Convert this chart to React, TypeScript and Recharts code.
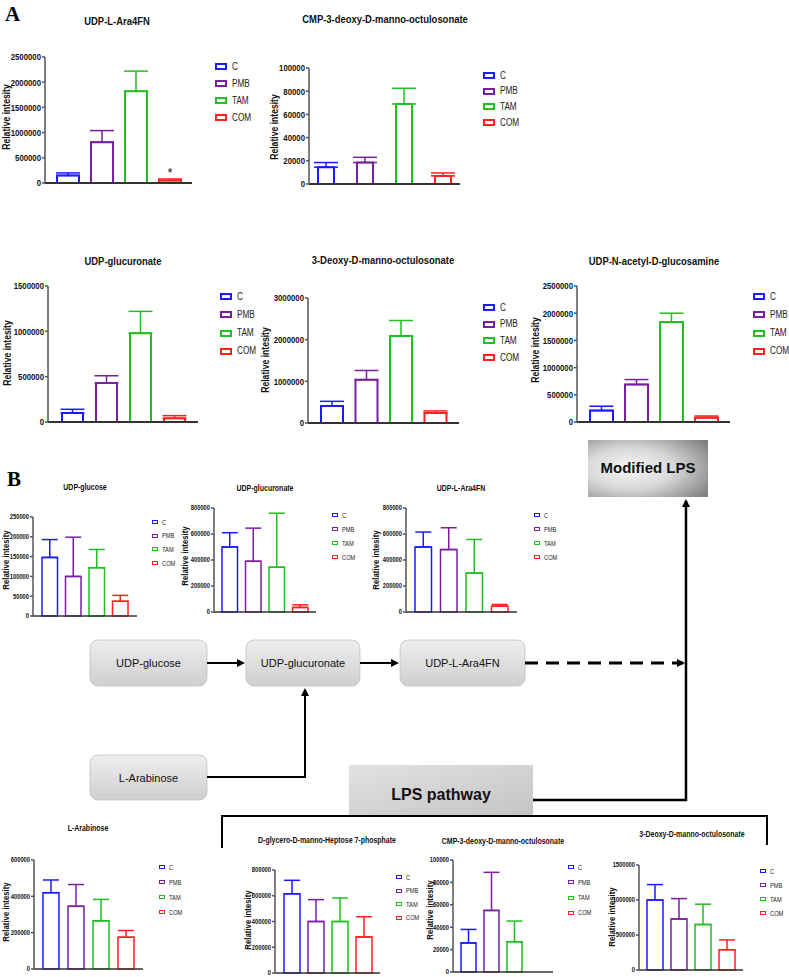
import React from 'react';
import { BarChart, Bar, XAxis, YAxis, ErrorBar, LabelList } from 'recharts';

const GROUPS = ['C', 'PMB', 'TAM', 'COM'];
const COLORS = ['#1a1aff', '#7b1fa2', '#1fc01f', '#ff2020'];

// means and upper error (mean + SD)
const araA_mean = [150000, 810000, 1820000, 50000];
const araA_top = [200000, 1040000, 2220000, 80000];
const araA_ticks = [0, 500000, 1000000, 1500000, 2000000, 2500000];
const araA_marks = ['', '', '', '*'];

const cmpA_mean = [14500, 18500, 69000, 7000];
const cmpA_top = [18500, 23000, 82500, 9500];
const cmpA_ticks = [0, 20000, 40000, 60000, 80000, 100000];

const glcA_mean = [100000, 430000, 980000, 40000];
const glcA_top = [140000, 510000, 1220000, 70000];
const glcA_ticks = [0, 500000, 1000000, 1500000];

const kdoA_mean = [410000, 1040000, 2090000, 240000];
const kdoA_top = [520000, 1260000, 2460000, 290000];
const kdoA_ticks = [0, 1000000, 2000000, 3000000];

const nagA_mean = [210000, 690000, 1840000, 80000];
const nagA_top = [290000, 780000, 2000000, 110000];
const nagA_ticks = [0, 500000, 1000000, 1500000, 2000000, 2500000];

const udpgB_mean = [148000, 100000, 122000, 37000];
const udpgB_top = [193000, 199000, 168000, 52000];
const udpgB_ticks = [0, 50000, 100000, 150000, 200000, 250000];

const glcB_mean = [500000, 390000, 345000, 35000];
const glcB_top = [610000, 645000, 760000, 55000];
const glcB_ticks = [0, 200000, 400000, 600000, 800000];

const araB_mean = [500000, 480000, 300000, 45000];
const araB_top = [615000, 648000, 558000, 58000];
const araB_ticks = [0, 200000, 400000, 600000, 800000];

const arabB_mean = [420000, 345000, 265000, 175000];
const arabB_top = [490000, 465000, 383000, 212000];
const arabB_ticks = [0, 200000, 400000, 600000];

const hepB_mean = [615000, 400000, 400000, 280000];
const hepB_top = [720000, 570000, 583000, 437000];
const hepB_ticks = [0, 200000, 400000, 600000, 800000];

const cmpB_mean = [26000, 55000, 27000, 0];
const cmpB_top = [38000, 89000, 45500, 0];
const cmpB_ticks = [0, 20000, 40000, 60000, 80000, 100000];

const kdoB_mean = [1000000, 730000, 650000, 290000];
const kdoB_top = [1220000, 1020000, 940000, 430000];
const kdoB_ticks = [0, 500000, 1000000, 1500000];

// no narrow font installed, so squeeze Liberation Sans horizontally
const ARIAL = '"Liberation Sans", Arial, sans-serif';
const SQ = 0.82;

type Spec = {
  title: string;
  mean: number[];
  top: number[];
  ticks: number[];
  marks?: string[];
  big: boolean;
  axisX: number; topY: number; zeroY: number; endX: number;
  barSize: number; barGap: number;
  titleX: number; titleY: number;
  labelX: number; labelY: number;
  legX: number; legY: number; legStep: number;
};

const charts: Spec[] = [
  { title: 'UDP-L-Ara4FN', mean: araA_mean, top: araA_top, ticks: araA_ticks, marks: araA_marks, big: true,
    axisX: 45, topY: 57, zeroY: 183, endX: 192, barSize: 22, barGap: 12,
    titleX: 117, titleY: 23, labelX: 6, labelY: 117, legX: 215, legY: 66, legStep: 17 },
  { title: 'CMP-3-deoxy-D-manno-octulosonate', mean: cmpA_mean, top: cmpA_top, ticks: cmpA_ticks, big: true,
    axisX: 309, topY: 68, zeroY: 184, endX: 460, barSize: 16, barGap: 23,
    titleX: 385, titleY: 21, labelX: 274, labelY: 127, legX: 483, legY: 75, legStep: 15.7 },
  { title: 'UDP-glucuronate', mean: glcA_mean, top: glcA_top, ticks: glcA_ticks, big: true,
    axisX: 48, topY: 286, zeroY: 422, endX: 198, barSize: 21, barGap: 13,
    titleX: 123, titleY: 263, labelX: 7, labelY: 353, legX: 220, legY: 296, legStep: 18.3 },
  { title: '3-Deoxy-D-manno-octulosonate', mean: kdoA_mean, top: kdoA_top, ticks: kdoA_ticks, big: true,
    axisX: 308, topY: 298, zeroY: 423, endX: 459, barSize: 22, barGap: 12.5,
    titleX: 383, titleY: 262, labelX: 265, labelY: 360, legX: 483, legY: 307, legStep: 16.7 },
  { title: 'UDP-N-acetyl-D-glucosamine', mean: nagA_mean, top: nagA_top, ticks: nagA_ticks, big: true,
    axisX: 577, topY: 286, zeroY: 422, endX: 730, barSize: 23, barGap: 12,
    titleX: 654, titleY: 263, labelX: 535, labelY: 350, legX: 753, legY: 296, legStep: 18.3 },
  { title: 'UDP-glucose', mean: udpgB_mean, top: udpgB_top, ticks: udpgB_ticks, big: false,
    axisX: 33, topY: 517, zeroY: 616, endX: 137, barSize: 15.5, barGap: 8,
    titleX: 85, titleY: 488, labelX: 6, labelY: 560, legX: 152, legY: 522, legStep: 13.7 },
  { title: 'UDP-glucuronate', mean: glcB_mean, top: glcB_top, ticks: glcB_ticks, big: false,
    axisX: 214, topY: 508, zeroY: 612, endX: 316, barSize: 15.5, barGap: 8,
    titleX: 265, titleY: 489, labelX: 185, labelY: 556, legX: 332, legY: 515, legStep: 14 },
  { title: 'UDP-L-Ara4FN', mean: araB_mean, top: araB_top, ticks: araB_ticks, big: false,
    axisX: 406, topY: 508, zeroY: 612, endX: 517, barSize: 16.5, barGap: 9,
    titleX: 461, titleY: 489, labelX: 376, labelY: 560, legX: 534, legY: 515, legStep: 14 },
  { title: 'L-Arabinose', mean: arabB_mean, top: arabB_top, ticks: arabB_ticks, big: false,
    axisX: 34, topY: 860, zeroY: 969, endX: 143, barSize: 16, barGap: 9,
    titleX: 88, titleY: 829, labelX: 6, labelY: 912, legX: 159, legY: 867, legStep: 15 },
  { title: 'D-glycero-D-manno-Heptose 7-phosphate', mean: hepB_mean, top: hepB_top, ticks: hepB_ticks, big: false,
    axisX: 275, topY: 870, zeroY: 973, endX: 380, barSize: 16, barGap: 8,
    titleX: 327, titleY: 841, labelX: 248, labelY: 920, legX: 396, legY: 877, legStep: 13.6 },
  { title: 'CMP-3-deoxy-D-manno-octulosonate', mean: cmpB_mean, top: cmpB_top, ticks: cmpB_ticks, big: false,
    axisX: 453, topY: 860, zeroY: 972, endX: 553, barSize: 15, barGap: 8,
    titleX: 503, titleY: 842, labelX: 430, labelY: 910, legX: 568, legY: 867, legStep: 15.3 },
  { title: '3-Deoxy-D-manno-octulosonate', mean: kdoB_mean, top: kdoB_top, ticks: kdoB_ticks, big: false,
    axisX: 639, topY: 865, zeroY: 970, endX: 743, barSize: 16, barGap: 8,
    titleX: 692, titleY: 835, labelX: 612, labelY: 917, legX: 760, legY: 871, legStep: 14 },
];

const MT = 8;
const MB = 8;
const XH = 3;

const NarrowTick = (props: any) => {
  const { x, y, payload, fs } = props;
  return (
    <text transform={`translate(${x},${y}) scale(${SQ},1)`} textAnchor="end" dy="0.35em"
      fontSize={fs} fontWeight="bold" fill="#111" fontFamily={ARIAL}>{payload.value}</text>
  );
};

function MiniBar({ s }: { s: Spec }) {
  const yW = s.big ? 48 : 36;
  const row: Record<string, any> = { name: 'g' };
  GROUPS.forEach((g, i) => {
    row[g] = s.mean[i];
    row[g + '_err'] = [0, s.top[i] - s.mean[i]];
  });
  const w = yW + (s.endX - s.axisX) + 4;
  const h = MT + (s.zeroY - s.topY) + XH + MB;
  const tickFont = s.big ? 9.5 : 7;
  const titleFont = s.big ? 11.5 : 8.5;
  const legFont = s.big ? 10 : 7;
  const boxW = s.big ? 11 : 7;
  const boxH = s.big ? 6 : 5;
  return (
    <>
      <div style={{ position: 'absolute', left: s.titleX - 150, top: s.titleY - titleFont * 0.6, width: 300, textAlign: 'center',
        transform: `scaleX(${SQ})`, fontFamily: ARIAL, fontWeight: 'bold', fontSize: titleFont, lineHeight: 1, color: '#111' }}>{s.title}</div>
      <div style={{ position: 'absolute', left: s.labelX - 60, top: s.labelY - 6, width: 120, textAlign: 'center',
        transform: `rotate(-90deg) scaleX(${SQ})`, fontFamily: ARIAL, fontWeight: 'bold', fontSize: s.big ? 10.5 : 9.5,
        lineHeight: '12px', color: '#111' }}>
        Relative intesity
      </div>
      <div style={{ position: 'absolute', left: s.axisX - yW, top: s.topY - MT }}>
        <BarChart width={w} height={h} data={[row]} margin={{ top: MT, right: 4, left: 0, bottom: MB }}
          barGap={s.barGap} barSize={s.barSize}>
          <XAxis dataKey="name" tick={false} tickLine={false} height={XH}
            axisLine={{ stroke: '#333', strokeWidth: s.big ? 2 : 1.5 }} />
          <YAxis width={yW} domain={[0, s.ticks[s.ticks.length - 1]]} ticks={s.ticks} interval={0}
            tickSize={3} tickMargin={1} stroke="#555" strokeWidth={1.5}
            tick={<NarrowTick fs={tickFont} />} />
          {GROUPS.map((g, i) => (
            <Bar key={g} dataKey={g} fill="#fff" stroke={COLORS[i]} strokeWidth={s.big ? 2 : 1.5}
              isAnimationActive={false}>
              <ErrorBar dataKey={g + '_err'} width={s.big ? 12 : 8} stroke={COLORS[i]} strokeWidth={1.5}
                direction="y" isAnimationActive={false} />
              {s.marks && s.marks[i] ? (
                <LabelList dataKey={g} content={(p: any) => (
                  <text x={p.x + p.width / 2} y={p.y - 3} textAnchor="middle" fontSize={13}
                    fontFamily={ARIAL} fill="#222">{s.marks![i]}</text>
                )} />
              ) : null}
            </Bar>
          ))}
        </BarChart>
      </div>
      {GROUPS.map((g, i) => (
        <div key={g} style={{ position: 'absolute', left: s.legX, top: s.legY + i * s.legStep - boxH / 2, display: 'flex', alignItems: 'center' }}>
          <div style={{ width: boxW - 3, height: boxH - 3, border: `${s.big ? 2 : 1.5}px solid ${COLORS[i]}`, background: '#fff' }} />
          <span style={{ display: 'inline-block', marginLeft: s.big ? 5 : 3.5, transform: `scaleX(${SQ})`, transformOrigin: 'left center',
            fontFamily: ARIAL, fontSize: legFont, lineHeight: `${boxH}px`, color: '#222' }}>{g}</span>
        </div>
      ))}
    </>
  );
}

function Diagram() {
  return (
    <svg width={789} height={977} style={{ position: 'absolute', left: 0, top: 0 }}>
      <defs>
        <linearGradient id="boxg" x1="0" y1="0" x2="0" y2="1">
          <stop offset="0" stopColor="#eeeeee" />
          <stop offset="1" stopColor="#cfcfcf" />
        </linearGradient>
        <radialGradient id="modg" cx="0.35" cy="0.5" r="0.8">
          <stop offset="0" stopColor="#f7f7f7" />
          <stop offset="0.45" stopColor="#d8d8d8" />
          <stop offset="1" stopColor="#7d7d7d" />
        </radialGradient>
        <linearGradient id="lpsg" x1="0" y1="0" x2="1" y2="1">
          <stop offset="0" stopColor="#e2e2e2" />
          <stop offset="1" stopColor="#c4c4c4" />
        </linearGradient>
        <marker id="arr" markerWidth="8" markerHeight="8" refX="6" refY="4" orient="auto" markerUnits="userSpaceOnUse">
          <path d="M0,0 L8,4 L0,8 Z" fill="#000" />
        </marker>
      </defs>
      <rect x={588} y={440} width={120} height={57} fill="url(#modg)" />
      <text x={648} y={473} textAnchor="middle" fontFamily={ARIAL} fontWeight="bold" fontSize={15} fill="#111">Modified LPS</text>

      {[
        { x: 90, y: 640, w: 117, h: 46, t: 'UDP-glucose' },
        { x: 246, y: 640, w: 114, h: 46, t: 'UDP-glucuronate' },
        { x: 400, y: 640, w: 125, h: 46, t: 'UDP-L-Ara4FN' },
        { x: 90, y: 755, w: 117, h: 45, t: 'L-Arabinose' },
      ].map(b => (
        <g key={b.t}>
          <rect x={b.x} y={b.y} width={b.w} height={b.h} rx={8} fill="url(#boxg)" stroke="#c0c0c0" strokeWidth={0.8} />
          <text x={b.x + b.w / 2} y={b.y + b.h / 2 + 4} textAnchor="middle" fontFamily={ARIAL} fontSize={11} fill="#111">{b.t}</text>
        </g>
      ))}

      <line x1={207} y1={663} x2={243} y2={663} stroke="#000" strokeWidth={2} markerEnd="url(#arr)" />
      <line x1={360} y1={663} x2={397} y2={663} stroke="#000" strokeWidth={2} markerEnd="url(#arr)" />
      <line x1={525} y1={663} x2={683} y2={663} stroke="#000" strokeWidth={3} strokeDasharray="13 8" markerEnd="url(#arr)" />
      <polyline points="207,777 305,777 305,690" fill="none" stroke="#000" strokeWidth={2} markerEnd="url(#arr)" />
      <polyline points="533,800 686,800 686,501" fill="none" stroke="#000" strokeWidth={2.5} markerEnd="url(#arr)" />

      <polyline points="222,848 222,816 767,816 767,845" fill="none" stroke="#000" strokeWidth={2} />
      <rect x={349} y={765} width={184} height={50} fill="url(#lpsg)" />
      <text x={441} y={800} textAnchor="middle" fontFamily={ARIAL} fontWeight="bold" fontSize={16} fill="#111">LPS pathway</text>

      <text x={5} y={21} fontFamily='"Liberation Serif", "DejaVu Serif", serif' fontWeight="bold" fontSize={21} fill="#000">A</text>
      <text x={7} y={486} fontFamily='"Liberation Serif", "DejaVu Serif", serif' fontWeight="bold" fontSize={21} fill="#000">B</text>
    </svg>
  );
}

export default function App() {
  return (
    <div style={{ position: 'absolute', left: 0, top: 0, width: 789, height: 977, background: '#fff', overflow: 'hidden' }}>
      <Diagram />
      {charts.map((s, i) => <MiniBar key={i} s={s} />)}
    </div>
  );
}
